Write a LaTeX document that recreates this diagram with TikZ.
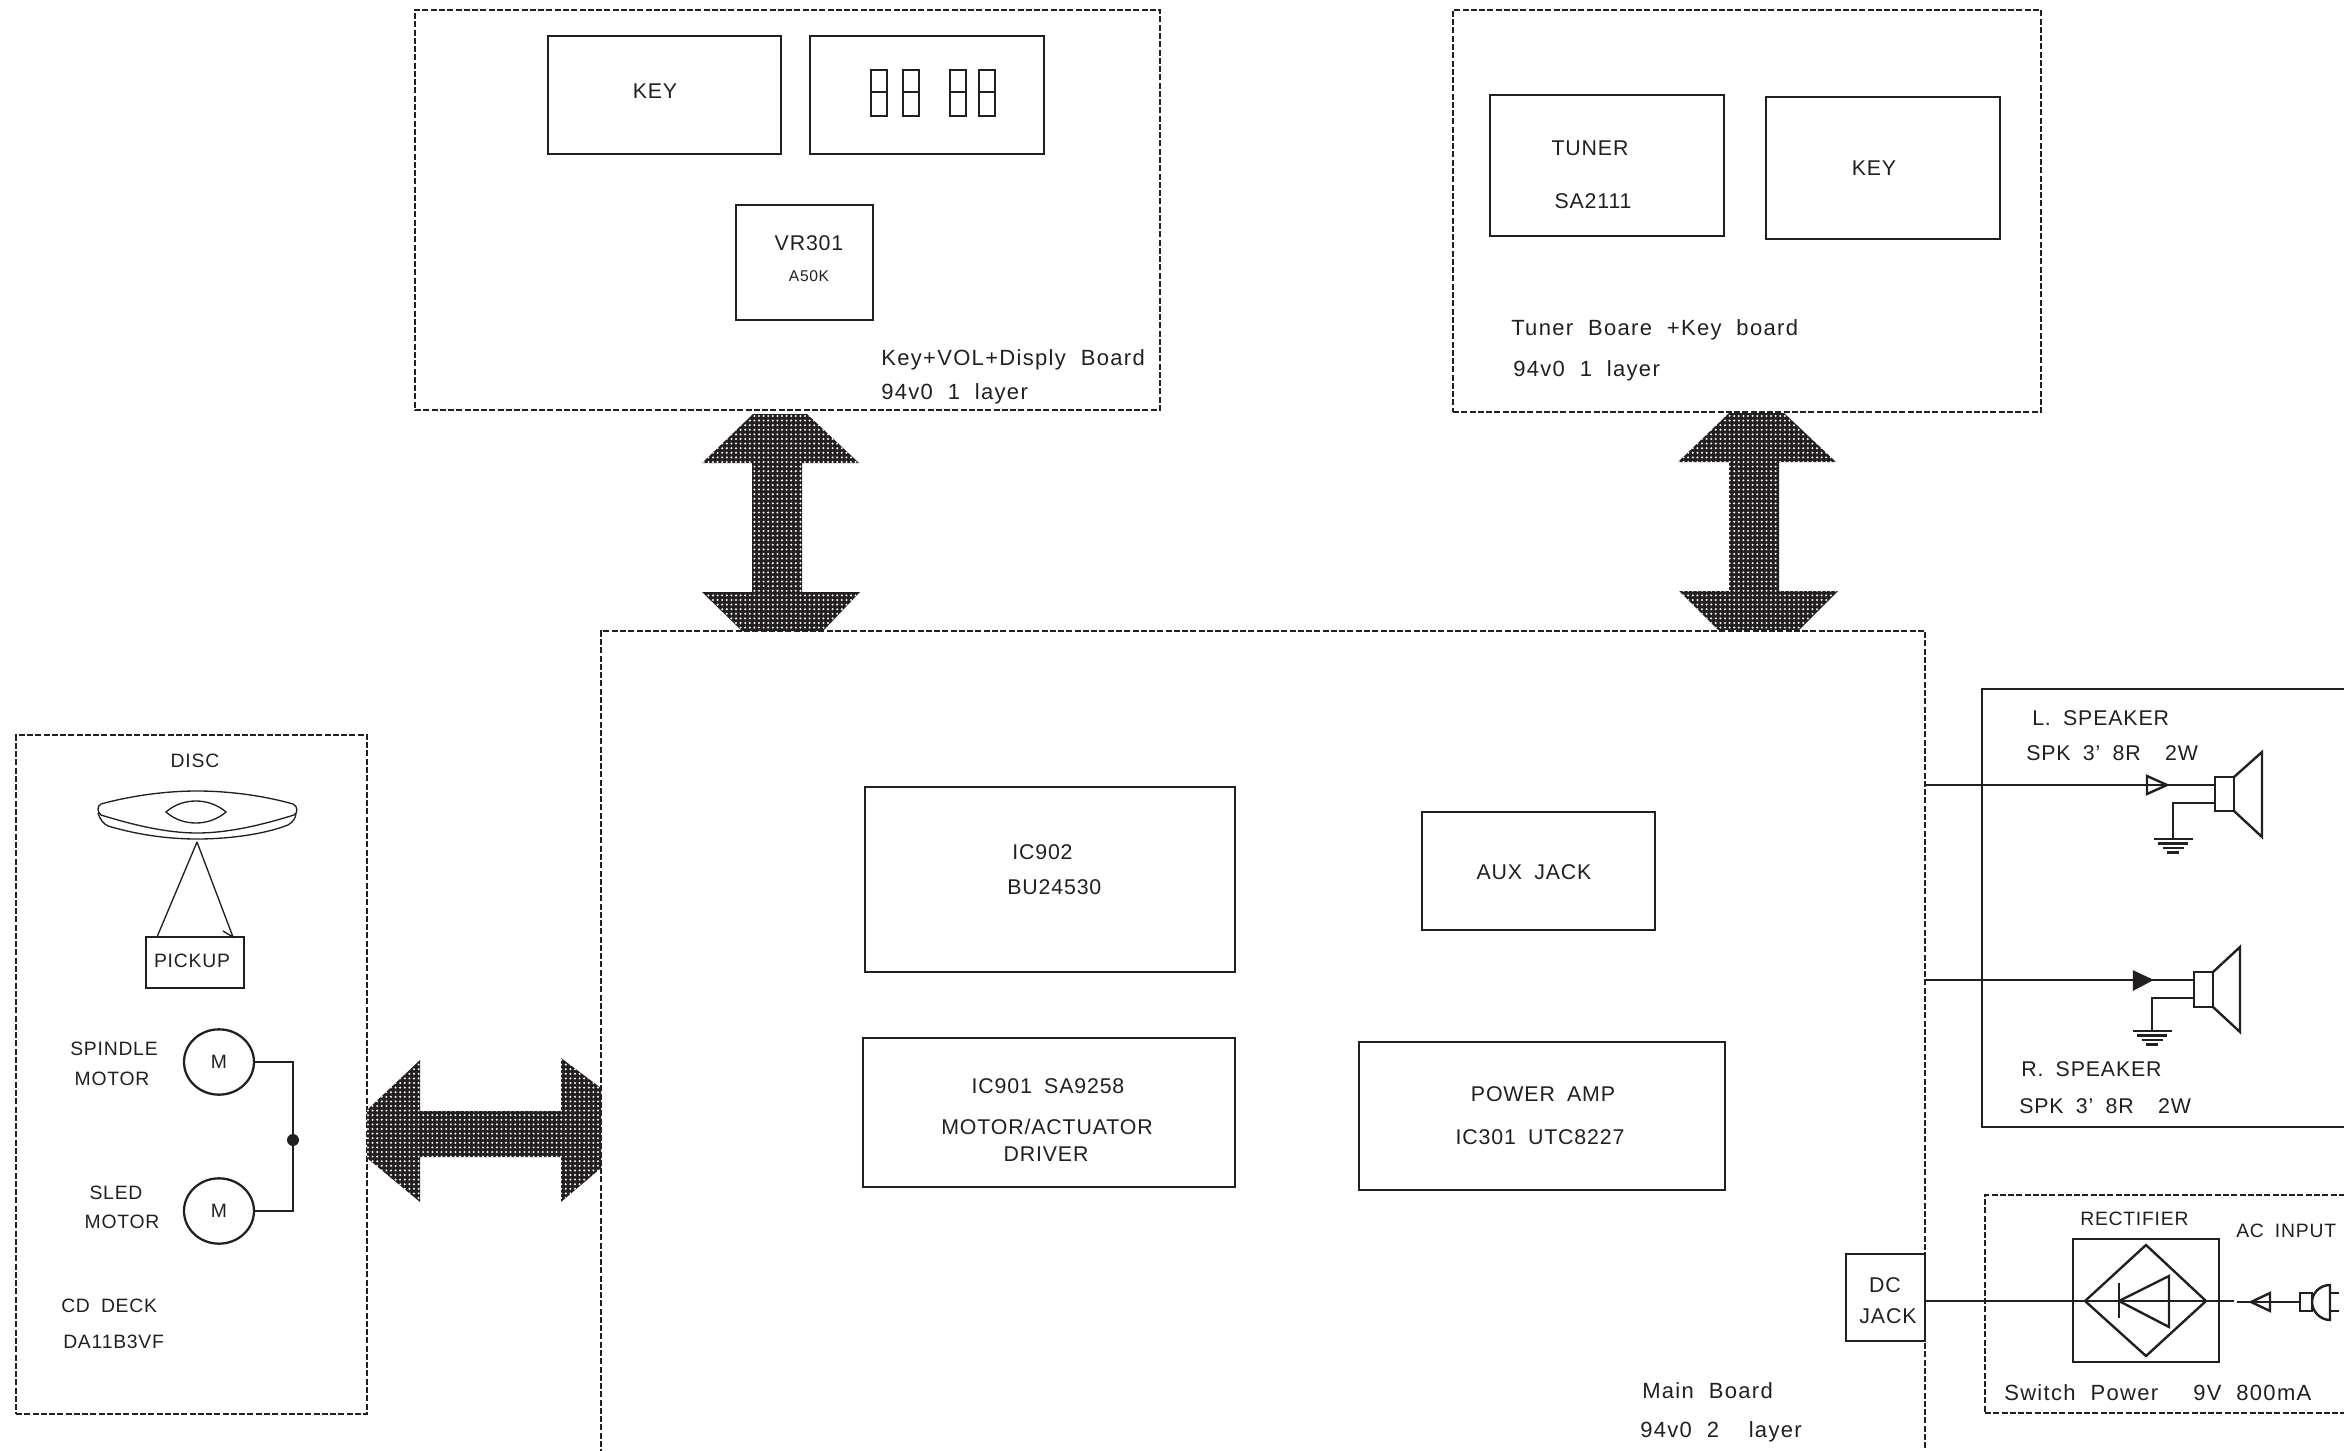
\documentclass[tikz,border=0pt]{standalone}
\usepackage{amsmath}
\usepackage{fontspec}
\usepackage{tikz}
\usetikzlibrary{fit,patterns.meta,shapes.geometric}
\setmainfont[LetterSpace=4,WordSpace=1.8]{Liberation Sans}
\newfontfamily\mixedfont[LetterSpace=6,WordSpace=2]{Liberation Sans}
\definecolor{ink}{RGB}{35,31,32}
\tikzset{
  solidbox/.style={draw,line width=2.1pt,inner sep=0pt,outer sep=0pt},
  dashbox/.style={solidbox,line width=2pt,dash pattern=on 4.5pt off 1.7pt},
  wire/.style={line width=1.8pt},
  thinwire/.style={line width=1pt},
  lbl/.style={inner sep=0pt,text height=11.5pt,text depth=0pt,font=\fontsize{16}{20}\selectfont},
  mixedlbl/.style={inner sep=0pt,anchor=west,text height=11.8pt,text depth=0pt,font=\mixedfont\fontsize{16.5}{20}\selectfont},
  decklbl/.style={inner sep=0pt,text height=10.4pt,text depth=0pt,font=\fontsize{14.5}{18}\selectfont},
  smalllbl/.style={inner sep=0pt,text height=8.4pt,text depth=0pt,font=\fontsize{11.7}{14}\selectfont},
  busarrow/.style={fill=ink,postaction={pattern={Dots[distance=3.45pt,radius=0.85pt]},pattern color=white}},
}

\begin{document}
\begin{tikzpicture}[x=0.75pt,y=0.75pt,yscale=-1,xscale=1,color=ink]
\useasboundingbox (0,0) rectangle (2344,1451);
\clip (0,0) rectangle (2344,1451);
%Boards
\node [dashbox,fit={(415,10) (1160,410)}] (keyboard) {};
\node [dashbox,fit={(1453,10) (2041,412)}] (tunerboard) {};
\node [dashbox,fit={(601,631) (1925,1480)}] (mainboard) {};
\node [dashbox,fit={(16,735) (367,1414)}] (cddeck) {};
\node [solidbox,fit={(1982,689) (2370,1127)}] (spkbox) {};
\node [dashbox,fit={(1985,1195) (2370,1413)}] (powerbox) {};
%Key board blocks
\node [solidbox,fit={(548,36) (781,154)}] (keya) {};
\node [solidbox,fit={(810,36) (1044,154)}] (display) {};
\node [solidbox,fit={(736,205) (873,320)}] (vr) {};
%Display digits
\foreach \dx in {871,903,950,979}{
\draw [line width=1.2pt] (\dx,70) rectangle (\dx+16,92);
\draw [line width=1.2pt] (\dx,92) rectangle (\dx+16,116);
}
%Tuner blocks
\node [solidbox,fit={(1490,95) (1724,236)}] (tuner) {};
\node [solidbox,fit={(1766,97) (2000,239)}] (keyb) {};
%Main board blocks
\node [solidbox,fit={(865,787) (1235,972)}] (icnine) {};
\node [solidbox,fit={(1422,812) (1655,930)}] (aux) {};
\node [solidbox,fit={(863,1038) (1235,1187)}] (driver) {};
\node [solidbox,fit={(1359,1042) (1725,1190)}] (amp) {};
\node [solidbox,fit={(1846,1254) (1925,1341)}] (dcjack) {};
%Bus arrows
\path [busarrow] (753,414) -- (807,414) -- (859,463) -- (802,463) -- (802,592) -- (860,592) -- (823,631) -- (742,631) -- (702,592) -- (752,592) -- (752,463) -- (702,463) -- cycle;
\path [busarrow] (1729,413) -- (1784,413) -- (1836,462) -- (1779,462) -- (1779,591) -- (1838,591) -- (1799,630) -- (1718,630) -- (1679,591) -- (1729,591) -- (1729,462) -- (1678,462) -- cycle;
\path [busarrow] (367,1110) -- (420,1060) -- (420,1111) -- (561,1111) -- (561,1058) -- (601,1088) -- (601,1168) -- (561,1202) -- (561,1157) -- (420,1157) -- (420,1202) -- (367,1158) -- cycle;
%Disc
\draw [thinwire] (101,804) .. controls (130,796) and (165,791) .. (197,791) .. controls (230,791) and (265,796) .. (293,804) .. controls (298,806) and (298,813) .. (294,815) .. controls (265,824) and (230,833) .. (197,833) .. controls (165,833) and (130,824) .. (101,815) .. controls (97,812) and (97,806) .. (101,804) -- cycle;
\draw [thinwire] (98,813) .. controls (100,820) and (104,824) .. (108,826) .. controls (135,834) and (165,839) .. (197,839) .. controls (230,839) and (265,834) .. (288,825) .. controls (293,822) and (296,818) .. (296,813);
\draw [thinwire] (166,812) .. controls (175,804) and (186,801) .. (196,801) .. controls (207,801) and (218,805) .. (226,812) .. controls (218,819) and (207,823) .. (196,823) .. controls (186,823) and (175,820) .. (166,812) -- cycle;
\coordinate (discpt) at (197,842);
%Pickup
\node [solidbox,fit={(146,937) (244,988)}] (pickup) {};
\coordinate (pickl) at (157,937);
\coordinate (pickr) at (233,937);
\draw [thinwire] (discpt) -- (pickl);
\draw [thinwire] (discpt) -- (pickr) -- +(-10,-6);
%Motors
\node [draw,ellipse,line width=1.7pt,inner sep=0pt,outer sep=0pt,minimum width=52.5pt,minimum height=49pt,decklbl] (spindle) at (219,1062) {M};
\node [draw,ellipse,line width=1.7pt,inner sep=0pt,outer sep=0pt,minimum width=52.5pt,minimum height=49pt,decklbl] (sled) at (219,1211) {M};
\node [fill,circle,inner sep=0pt,minimum size=9pt] (junction) at (293,1140) {};
\draw [wire] (spindle.east) -| (junction) |- (sled.east);
%Left speaker
\node [solidbox,line width=1.8pt,fit={(2215,777) (2234,811)}] (lspk) {};
\coordinate (lin) at (1925,785);
\coordinate (lgnd) at (2173,839);
\draw [wire] (lin) -- (lspk.west |- lin);
\draw [wire] (2147,776) -- (2167,785) -- (2147,794) -- cycle;
\draw [wire] (2234,777) -- (2262,752) -- (2262,837) -- (2234,811);
\draw [wire] (lspk.west |- 0,803) -| (lgnd);
\foreach \gy/\gw in {0/19.5,4.5/15,9/10.5,13.5/6}{
\draw [wire] ([shift={(-\gw,\gy)}]lgnd) -- ([shift={(\gw,\gy)}]lgnd);
}
%Right speaker
\node [solidbox,line width=1.8pt,fit={(2194,972) (2213,1007)}] (rspk) {};
\coordinate (rin) at (1925,980);
\coordinate (rgnd) at (2152,1031);
\draw [wire] (rin) -- (rspk.west |- rin);
\draw [wire,fill=ink] (2134,972) -- (2151,980) -- (2134,989) -- cycle;
\draw [wire] (2213,972) -- (2240,947) -- (2240,1032) -- (2213,1007);
\draw [wire] (rspk.west |- 0,998) -| (rgnd);
\foreach \gy/\gw in {0/19.5,4.5/15,9/10.5,13.5/6}{
\draw [wire] ([shift={(-\gw,\gy)}]rgnd) -- ([shift={(\gw,\gy)}]rgnd);
}
%Rectifier
\node [solidbox,line width=1.8pt,fit={(2073,1239) (2219,1362)}] (rectifier) {};
\draw [wire] (2085,1301) -- (2146,1245) -- (2206,1301) -- (2146,1356) -- cycle;
\draw [wire] (2119,1301) -- (2169,1276) -- (2169,1327) -- cycle;
\draw [wire] (2119,1283) -- (2119,1318);
\coordinate (dcout) at (1925,1301);
\coordinate (acend) at (2234,1301);
\draw [wire] (dcout) -- (acend);
%AC plug
\node [solidbox,line width=1.8pt,fit={(2300,1293) (2312,1311)}] (plug) {};
\coordinate (acin) at (2237,1302);
\draw [wire] (acin) -- (plug.west);
\draw [wire] (2251,1302) -- (2270,1293) -- (2270,1311) -- cycle;
\draw [wire] (2330,1285) .. controls (2320,1285) and (2312,1293) .. (2312,1302) .. controls (2312,1311) and (2320,1320) .. (2330,1320) -- cycle;
\draw [wire] (2330,1293) -- (2339,1293) (2330,1311) -- (2339,1311);
% Text Node
\draw (655,91) node [lbl] (tkeya) {KEY};
\draw (809,243) node [lbl] (tvr) {VR301};
\draw (809,276) node [smalllbl] (tvrval) {A50K};
\draw (881,358) node [mixedlbl] (tkeyboard) {Key+VOL+Disply Board};
\draw (881,392) node [mixedlbl] (tkeylayer) {94v0 1 layer};
% Text Node
\draw (1590,148) node [lbl] (ttuner) {TUNER};
\draw (1593,201) node [lbl] (tsa) {SA2111};
\draw (1874,168) node [lbl] (tkeyb) {KEY};
\draw (1511,328) node [mixedlbl] (ttunerboard) {Tuner Boare +Key board};
\draw (1513,369) node [mixedlbl] (ttunerlayer) {94v0 1 layer};
% Text Node
\draw (1012,852) node [lbl,anchor=west] (ticnine) {IC902};
\draw (1007,887) node [lbl,anchor=west] (tbu) {BU24530};
\draw (1534,872) node [lbl] (taux) {AUX JACK};
\draw (1048,1086) node [lbl] (tdrv) {IC901 SA9258};
\draw (1047,1127) node [lbl] (tmotor) {MOTOR/ACTUATOR};
\draw (1046,1154) node [lbl] (tdriver) {DRIVER};
\draw (1543,1094) node [lbl] (tamp) {POWER AMP};
\draw (1540,1137) node [lbl] (tutc) {IC301 UTC8227};
\draw (1642,1391) node [mixedlbl] (tmain) {Main Board};
\draw (1640,1430) node [mixedlbl] (tmainlayer) {94v0 2\ \ layer};
% Text Node
\draw (195,761) node [decklbl] (tdisc) {DISC};
\draw (192,961) node [decklbl] (tpickup) {PICKUP};
\draw (114,1049) node [decklbl] (tspindle) {SPINDLE};
\draw (112,1079) node [decklbl] (tspmotor) {MOTOR};
\draw (116,1193) node [decklbl] (tsled) {SLED};
\draw (122,1222) node [decklbl] (tslmotor) {MOTOR};
\draw (61,1306) node [decklbl,anchor=west] (tdeck) {CD DECK};
\draw (63,1342) node [decklbl,anchor=west] (tdeckno) {DA11B3VF};
% Text Node
\draw (2032,718) node [lbl,anchor=west] (tlspk) {L. SPEAKER};
\draw (2026,753) node [lbl,anchor=west] (tlspec) {SPK 3' 8R\ \ 2W};
\draw (2021,1069) node [lbl,anchor=west] (trspk) {R. SPEAKER};
\draw (2019,1106) node [lbl,anchor=west] (trspec) {SPK 3' 8R\ \ 2W};
\draw (1885,1285) node [lbl] (tdc) {DC};
\draw (1888,1316) node [lbl] (tjack) {JACK};
\draw (2080,1219) node [decklbl,anchor=west] (trect) {RECTIFIER};
\draw (2236,1231) node [decklbl,anchor=west] (tac) {AC INPUT};
\draw (2004,1393) node [mixedlbl] (tswitch) {Switch Power};
\draw (2193,1393) node [mixedlbl] (tvolt) {9V 800mA};
\end{tikzpicture}
\end{document}
